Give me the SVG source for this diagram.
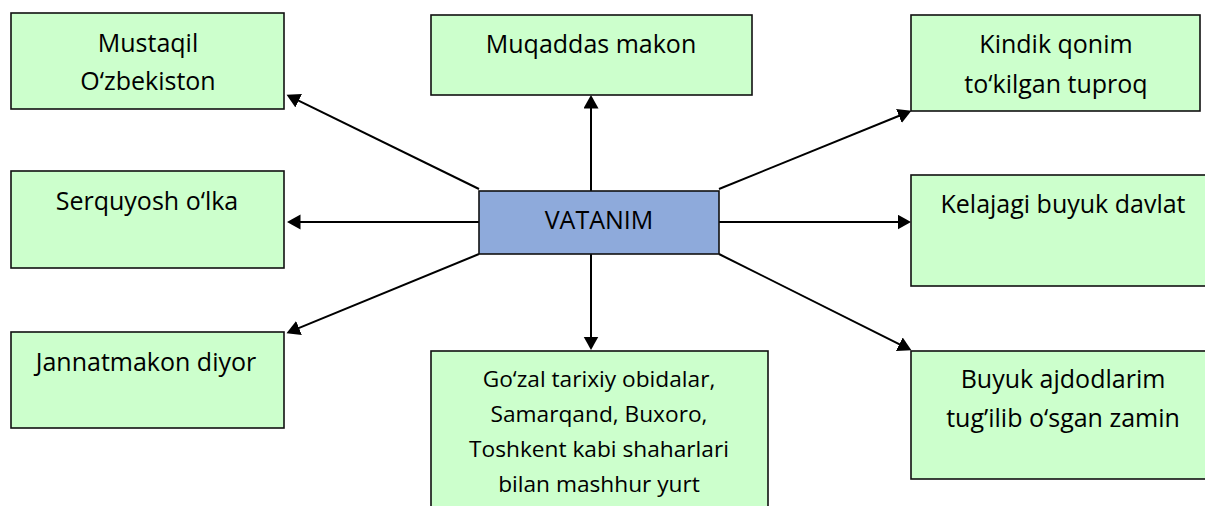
<svg xmlns="http://www.w3.org/2000/svg" width="1205" height="506" viewBox="0 0 1205 506">
<style>
.box{fill:#ccffcc;stroke:#111;stroke-width:1.6}
.center{fill:#8eaadb;stroke:#111;stroke-width:1.6}
.t{font-family:"Open Sans","Noto Sans",sans-serif;font-size:25px;fill:#000;text-anchor:middle}
.s{font-size:22.7px}
.c line{stroke:#000;stroke-width:2;marker-end:url(#ah)}
</style>
<defs>
<marker id="ah" markerUnits="userSpaceOnUse" markerWidth="14" markerHeight="16" refX="7" refY="7.5" orient="auto">
<path d="M0,0 L13.5,7.5 L0,15 z" fill="#000"/>
</marker>
</defs>
<rect width="1205" height="506" fill="#fff"/>
<g id="connectors" class="c">
<line x1="479" y1="189" x2="292.4" y2="97.6"/>
<line x1="591" y1="191" x2="591" y2="101.5"/>
<line x1="719" y1="189" x2="905.4" y2="113.3"/>
<line x1="479" y1="222" x2="293.5" y2="222"/>
<line x1="719" y1="222" x2="904.5" y2="222"/>
<line x1="479" y1="254" x2="292.5" y2="330.7"/>
<line x1="591" y1="254" x2="591" y2="343.5"/>
<line x1="719" y1="254" x2="905.6" y2="347.3"/>
</g>
<g id="n-mustaqil">
<rect class="box" x="11" y="13" width="273" height="96"/>
<text class="t" x="148" y="52">Mustaqil</text>
<text class="t" x="148" y="90">O‘zbekiston</text>
</g>
<g id="n-muqaddas">
<rect class="box" x="431" y="15" width="321" height="80"/>
<text class="t" x="591" y="53">Muqaddas makon</text>
</g>
<g id="n-kindik">
<rect class="box" x="911" y="15" width="289" height="96"/>
<text class="t" x="1056" y="53">Kindik qonim</text>
<text class="t" x="1056" y="93">to‘kilgan tuproq</text>
</g>
<g id="n-serquyosh">
<rect class="box" x="11" y="171" width="273" height="97"/>
<text class="t" x="147" y="210">Serquyosh o‘lka</text>
</g>
<g id="n-vatanim">
<rect class="center" x="479" y="191" width="240" height="63"/>
<text class="t" x="599" y="229">VATANIM</text>
</g>
<g id="n-kelajagi">
<rect class="box" x="911" y="175" width="305" height="111"/>
<text class="t" x="1063" y="213">Kelajagi buyuk davlat</text>
</g>
<g id="n-jannat">
<rect class="box" x="11" y="332" width="273" height="96"/>
<text class="t" x="146" y="371">Jannatmakon diyor</text>
</g>
<g id="n-gozal">
<rect class="box" x="431" y="351" width="337" height="170"/>
<text class="t s" x="599" y="387">Go‘zal tarixiy obidalar,</text>
<text class="t s" x="599" y="422">Samarqand, Buxoro,</text>
<text class="t s" x="599" y="457">Toshkent kabi shaharlari</text>
<text class="t s" x="599" y="492">bilan mashhur yurt</text>
</g>
<g id="n-buyuk">
<rect class="box" x="911" y="351" width="305" height="128"/>
<text class="t" x="1063" y="388">Buyuk ajdodlarim</text>
<text class="t" x="1063" y="427">tug’ilib o‘sgan zamin</text>
</g>
</svg>
